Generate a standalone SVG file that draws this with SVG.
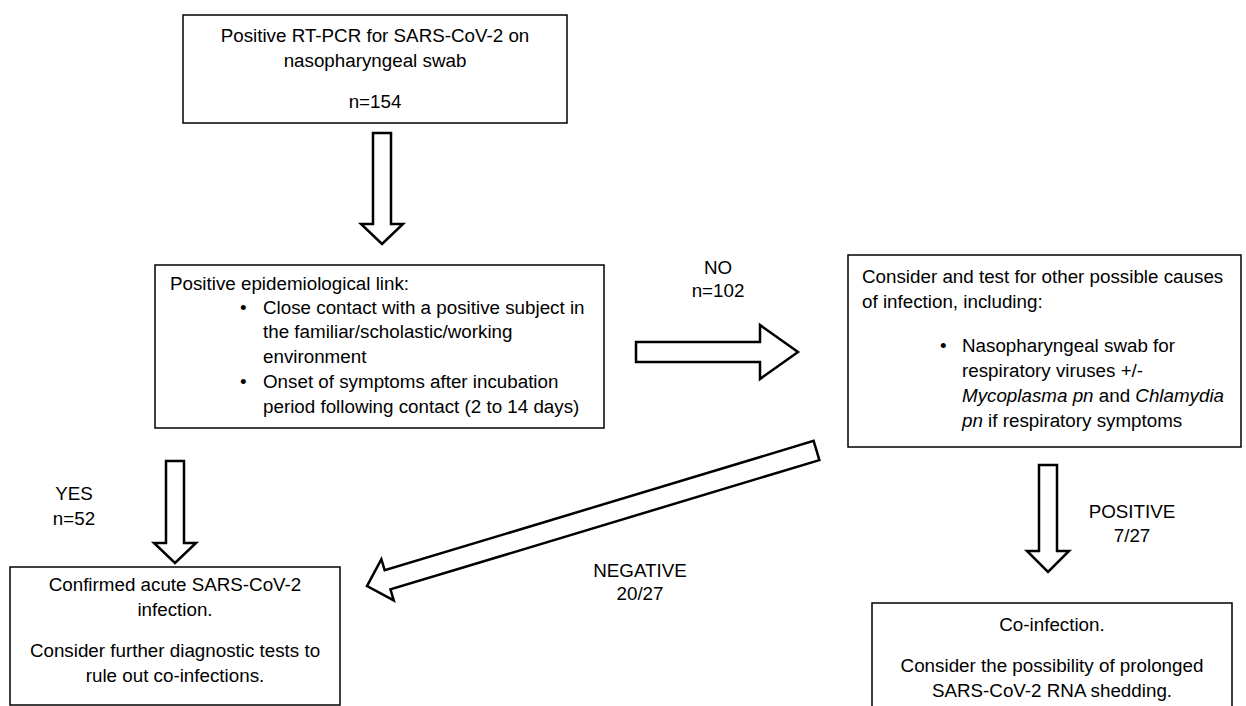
<svg xmlns="http://www.w3.org/2000/svg" width="1246" height="706" viewBox="0 0 1246 706">
<style>
.box{fill:#fff;stroke:#000;stroke-width:1.5}
.arr{fill:#fff;stroke:#000;stroke-width:2.5;stroke-linejoin:miter}
text{font-family:"Liberation Sans",Arial,sans-serif;font-size:18.8px;fill:#000}
.c{text-anchor:middle}
.i{font-style:italic}
</style>
<rect width="1246" height="706" fill="#fff"/>
<g id="connectors">
<path class="arr" d="M373,133 H391 V224 H403 L382,244 L361,224 H373 Z"/>
<path class="arr" d="M636,342 H760 V325 L798,352 L760,379 V362 H636 Z"/>
<path class="arr" d="M166,461 H184 V543 H196 L175,563 L154,543 H166 Z"/>
<path class="arr" d="M1039,465 H1057 V551 H1069 L1048,572 L1027,551 H1039 Z"/>
<path class="arr" transform="translate(816.5,450.5) rotate(163.22)" d="M0,-10 H448 V-21.5 L469.5,0 L448,21.5 V10 H0 Z"/>
<g id="labels">
<text class="c" x="718" y="274">NO</text>
<text class="c" x="718" y="297">n=102</text>
<text class="c" x="74" y="500">YES</text>
<text class="c" x="74" y="525">n=52</text>
<text class="c" x="640" y="577">NEGATIVE</text>
<text class="c" x="640" y="600">20/27</text>
<text class="c" x="1132" y="518">POSITIVE</text>
<text class="c" x="1132" y="542">7/27</text>
</g>
</g>
<g id="n1">
<rect class="box" x="183" y="15" width="384" height="108"/>
<text class="c" x="375" y="42">Positive RT-PCR for SARS-CoV-2 on</text>
<text class="c" x="375" y="67">nasopharyngeal swab</text>
<text class="c" x="375" y="108">n=154</text>
</g>
<g id="n2">
<rect class="box" x="155" y="265" width="449" height="163"/>
<text x="170" y="290">Positive epidemiological link:</text>
<text x="240" y="314">•</text>
<text x="263" y="314">Close contact with a positive subject in</text>
<text x="263" y="338">the familiar/scholastic/working</text>
<text x="263" y="363">environment</text>
<text x="240" y="388">•</text>
<text x="263" y="388">Onset of symptoms after incubation</text>
<text x="263" y="413">period following contact (2 to 14 days)</text>
</g>
<g id="n3">
<rect class="box" x="848" y="255" width="393" height="192"/>
<text x="862" y="283">Consider and test for other possible causes</text>
<text x="862" y="308">of infection, including:</text>
<text x="940" y="352">•</text>
<text x="962" y="352">Nasopharyngeal swab for</text>
<text x="962" y="377">respiratory viruses +/-</text>
<text x="962" y="402"><tspan class="i">Mycoplasma pn</tspan> and <tspan class="i">Chlamydia</tspan></text>
<text x="962" y="427"><tspan class="i">pn</tspan> if respiratory symptoms</text>
</g>
<g id="n4">
<rect class="box" x="10" y="567" width="330" height="138"/>
<text class="c" x="175" y="591">Confirmed acute SARS-CoV-2</text>
<text class="c" x="175" y="616">infection.</text>
<text class="c" x="175" y="657">Consider further diagnostic tests to</text>
<text class="c" x="175" y="682">rule out co-infections.</text>
</g>
<g id="n5">
<rect class="box" x="872" y="603" width="360" height="110"/>
<text class="c" x="1052" y="631">Co-infection.</text>
<text class="c" x="1052" y="672">Consider the possibility of prolonged</text>
<text class="c" x="1052" y="697">SARS-CoV-2 RNA shedding.</text>
</g>
</svg>
